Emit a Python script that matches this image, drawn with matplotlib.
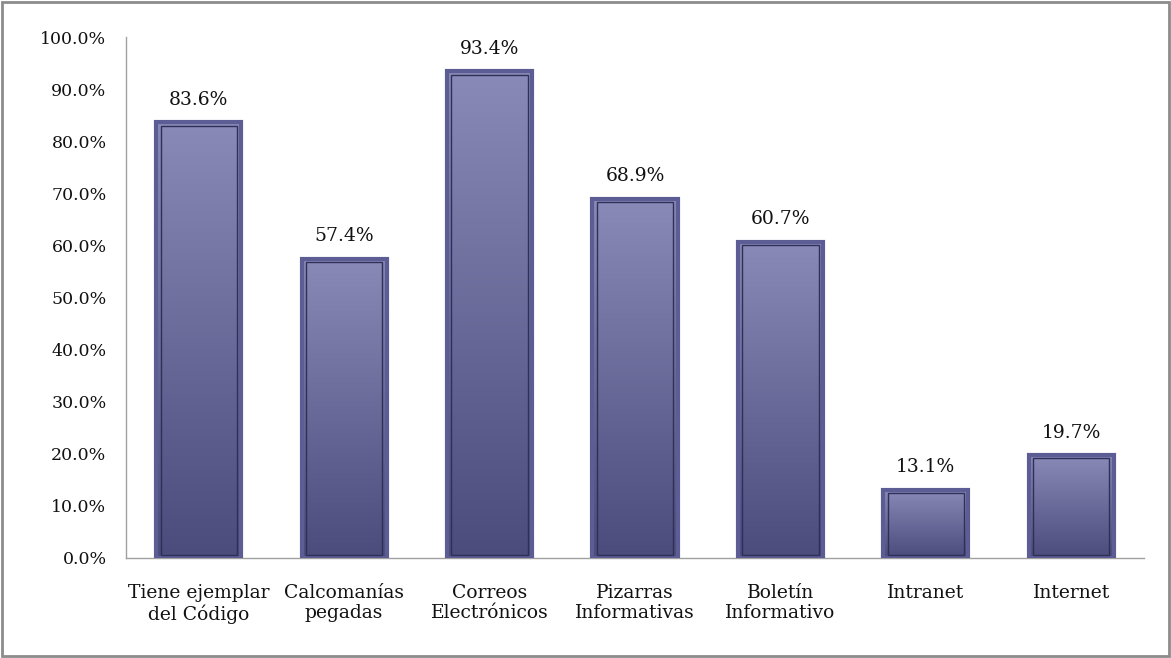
import numpy as np
import matplotlib.pyplot as plt
from matplotlib.patches import Rectangle
from matplotlib.colors import LinearSegmentedColormap
from matplotlib.ticker import FuncFormatter

categories = ["Tiene ejemplar\ndel Código", "Calcomanías\npegadas", "Correos\nElectrónicos",
              "Pizarras\nInformativas", "Boletín\nInformativo", "Intranet", "Internet"]
values = [83.6, 57.4, 93.4, 68.9, 60.7, 13.1, 19.7]
y_ticks = [0, 10, 20, 30, 40, 50, 60, 70, 80, 90, 100]

plt.rcParams['font.family'] = ['DejaVu Serif']

fig = plt.figure(figsize=(11.71, 6.58), dpi=100)
ax = fig.add_axes([126 / 1171, 100 / 658, 1018 / 1171, 521 / 658])

# gray frame around the whole chart
fig.patches.append(Rectangle((0.002, 0.003), 0.996, 0.994, transform=fig.transFigure,
                             fill=False, edgecolor='#8c8c8c', linewidth=2))

# ── Bars with vertical gradient ────────────────────────────────────────────
cmap = LinearSegmentedColormap.from_list('bar', ['#4b4b7c', '#8a8ab8'])
grad = np.linspace(0, 1, 256).reshape(-1, 1)
width = 0.585
x = np.arange(len(categories))
for xi, v in zip(x, values):
    left = xi - width / 2
    ax.imshow(grad, cmap=cmap, aspect='auto', origin='lower',
              extent=(left, left + width, 0, v), zorder=2)
    ax.add_patch(Rectangle((left, 0), width, v, fill=False,
                           edgecolor='#5d5d96', linewidth=3, zorder=3))
    ax.add_patch(Rectangle((left + 0.03, 0.6), width - 0.06, v - 1.2, fill=False,
                           edgecolor='#2f2f58', linewidth=1, zorder=4))
    ax.text(xi, v + 2.6, f"{v:.1f}%", ha='center', va='bottom', fontsize=13.5, color='#111111')

# ── Axes styling ──────────────────────────────────────────────────────────
ax.set_xlim(-0.5, len(categories) - 0.5)
ax.set_ylim(0, 100)
ax.set_yticks(y_ticks)
ax.yaxis.set_major_formatter(FuncFormatter(lambda v, _: f"{v:.1f}%"))
ax.set_xticks(x)
ax.set_xticklabels(categories, fontsize=13.5, linespacing=1.15)
for lbl in ax.get_yticklabels():
    lbl.set_fontsize(12.5)
    lbl.set_fontweight('medium')
ax.tick_params(axis='both', length=0, colors='#111111')
ax.tick_params(axis='y', pad=14)
ax.tick_params(axis='x', pad=19)
for side in ['top', 'right']:
    ax.spines[side].set_visible(False)
for side in ['left', 'bottom']:
    ax.spines[side].set_color('#a0a0a0')
    ax.spines[side].set_linewidth(1)

plt.savefig("out.png", dpi=100)
